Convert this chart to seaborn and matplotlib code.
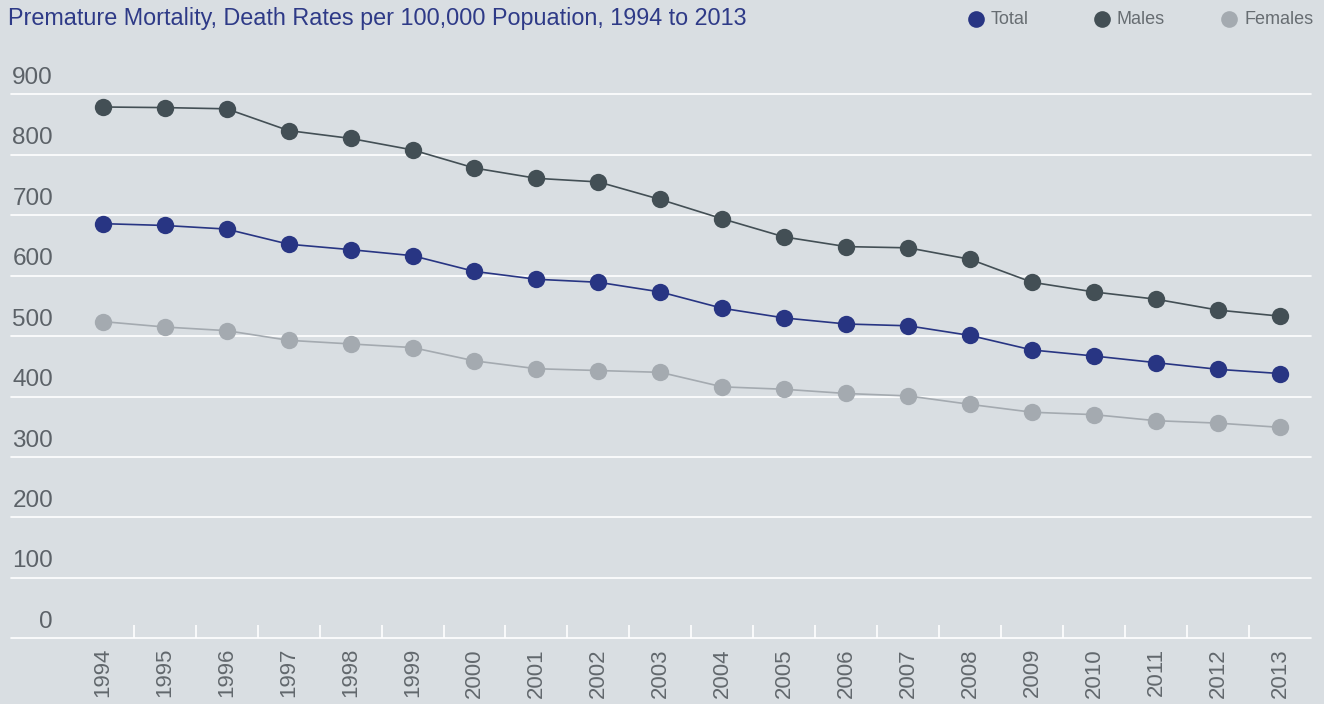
import pandas as pd
import matplotlib.pyplot as plt
import seaborn as sns

# Values
years = list(range(1994, 2014))
total = [686, 683, 677, 652, 643, 633, 607, 594, 589, 573,
         546, 530, 520, 517, 501, 477, 467, 456, 445, 438]
males = [879, 878, 876, 840, 827, 808, 778, 761, 755, 726,
         694, 664, 648, 646, 627, 589, 573, 561, 543, 533]
females = [524, 515, 509, 493, 487, 481, 459, 446, 443, 440,
           416, 412, 405, 401, 387, 374, 370, 360, 356, 349]
series_names = ['Total', 'Males', 'Females']
y_ticks = [0, 100, 200, 300, 400, 500, 600, 700, 800, 900]

colors = {'Total': '#283583', 'Males': '#434f55', 'Females': '#a4aab0'}
bg = '#d9dee2'

df = pd.DataFrame({'year': years, 'Total': total, 'Males': males, 'Females': females})
df = df.melt(id_vars='year', var_name='series', value_name='rate')

sns.set_style('white')
plt.rcParams['font.family'] = ['Liberation Sans', 'DejaVu Sans']

W, H = 1324, 704
fig = plt.figure(figsize=(W / 100, H / 100), dpi=100, facecolor=bg)
ax = fig.add_axes([11 / W, 1 - 638.3 / H, 1300 / W, (638.3 - 94.3) / H])
ax.set_facecolor(bg)

# gridlines + labels sitting on top of them (right aligned)
for t in y_ticks:
    ax.axhline(t, color='white', lw=1.2, zorder=1, clip_on=False)
    ax.text(42 / 1300, t + 9, str(t), transform=ax.get_yaxis_transform(),
            ha='right', va='bottom', fontsize=17.5, color='#5c6268')

sns.lineplot(data=df, x='year', y='rate', hue='series', hue_order=series_names,
             palette=colors, marker='o', markersize=12.5, markeredgewidth=0,
             linewidth=1.2, legend=False, ax=ax, zorder=3)

ax.set_xlim(1992.52, 2013.5)
ax.set_ylim(0, 900)
for s in ax.spines.values():
    s.set_visible(False)

ax.set_yticks([])
ax.set_xticks(years)
ax.set_xticklabels([str(y) for y in years], rotation=90, fontsize=16, color='#62686d')
ax.set_xticks([y + 0.5 for y in years[:-1]], minor=True)
ax.tick_params(axis='x', which='both', bottom=True)
ax.tick_params(axis='x', which='major', length=0, pad=7)
ax.tick_params(axis='x', which='minor', direction='in', length=9.5, width=1.2, color='white')
ax.set_xlabel('')
ax.set_ylabel('')

fig.text(8 / W, 1 - 19 / H, 'Premature Mortality, Death Rates per 100,000 Popuation, 1994 to 2013',
         ha='left', va='center', fontsize=16.8, color='#2e3a87')

# legend drawn item by item
legend_x = [976, 1102, 1229]
for name, lx in zip(series_names, legend_x):
    fig.add_artist(plt.Line2D([lx / W], [1 - 19 / H], marker='o', ls='', markersize=12,
                              markeredgewidth=0, color=colors[name], transform=fig.transFigure))
    fig.text((lx + 15) / W, 1 - 19 / H, name, ha='left', va='center',
             fontsize=13, color='#676d72')

fig.savefig('out.png', dpi=100, facecolor=bg)
